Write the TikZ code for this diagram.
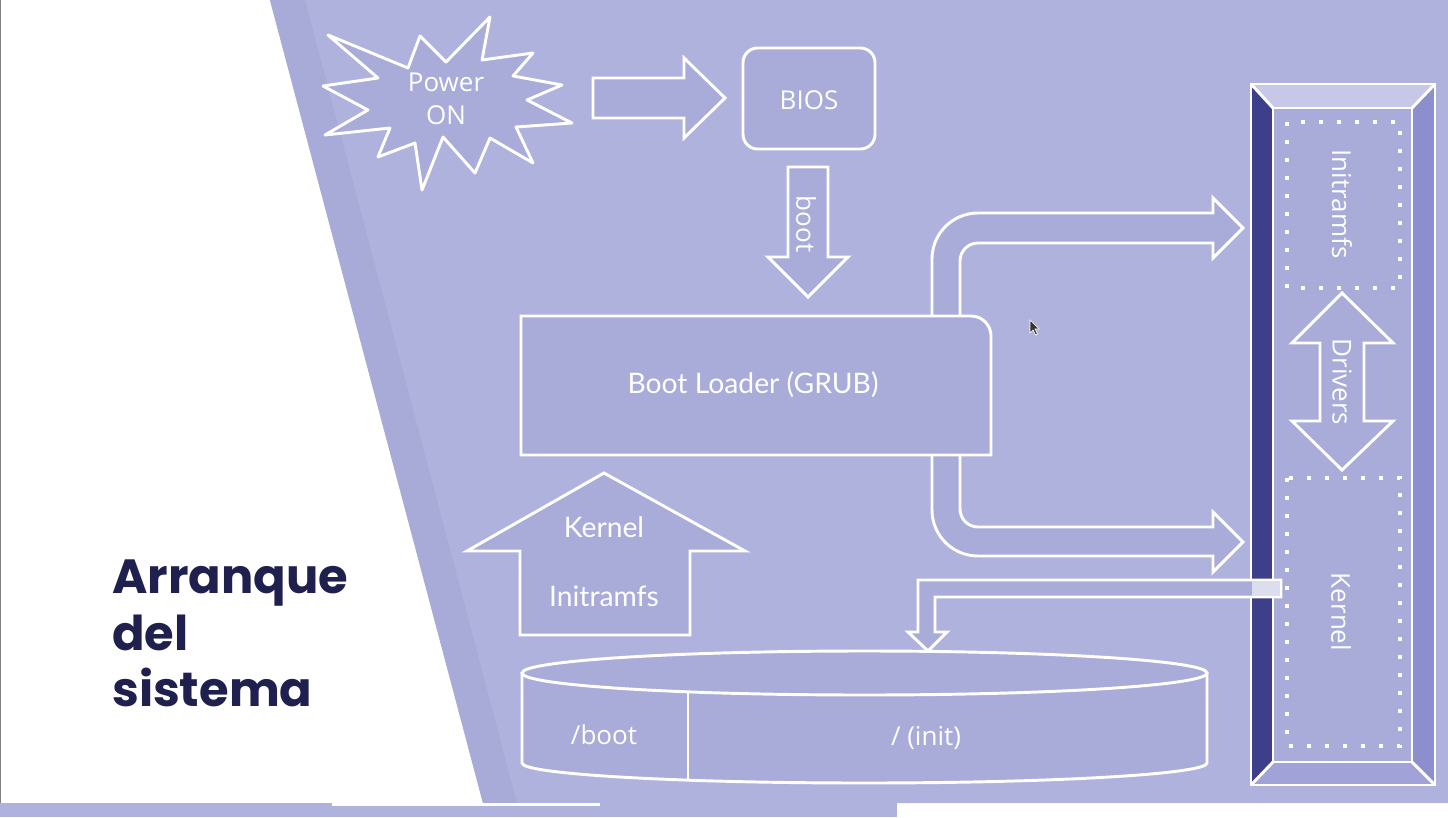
\documentclass[tikz,border=0pt]{standalone}
\usepackage{fontspec}
\setmainfont{Open Sans}
\newfontfamily\latofont{Lato}
\newfontfamily\titlefont{Poppins}
\usetikzlibrary{calc}

\definecolor{slidebg}{RGB}{176,178,222}
\definecolor{slideband}{RGB}{168,170,216}
\definecolor{boxfill}{RGB}{169,171,217}
\definecolor{titleblue}{RGB}{32,32,78}
\definecolor{bevtop}{RGB}{199,200,232}
\definecolor{bevleft}{RGB}{61,63,138}
\definecolor{bevright}{RGB}{140,142,205}
\definecolor{bevbottom}{RGB}{160,162,216}
\definecolor{lightfill}{RGB}{221,221,240}

\tikzset{
  wshape/.style={draw=white, line width=2.2pt, fill=boxfill, line join=miter},
  wline/.style={draw=white, line width=2.2pt},
  dotbox/.style={draw=white, line width=3pt, dash pattern=on 3pt off 10.5pt},
  seglabel/.style={text=white, inner sep=0pt, align=center, font=\fontsize{19.5}{25}\selectfont},
  latolabel/.style={text=white, inner sep=0pt, font=\latofont\fontsize{21.2}{25}\selectfont},
  titleline/.style={text=titleblue, inner sep=0pt, anchor=base west, font=\titlefont\bfseries\fontsize{36}{43}\selectfont},
}

\begin{document}
\begin{tikzpicture}[x=0.75pt,y=0.75pt,yscale=-1,xscale=1]
\useasboundingbox (0,0) rectangle (1448,817);

%Shape: Background
\fill [white] (0,0) rectangle (1448,817) ;
\fill [slidebg] (270,0) -- (1448,0) -- (1448,803) -- (483,803) -- cycle ;
\fill [slideband] (270,0) -- (305,0) -- (517,803) -- (483,803) -- cycle ;
\fill [slidebg] (0,803) rectangle (897,817) ;
\fill [white] (332,803) rectangle (600,806) ;
\draw [gray, line width=0.75pt] (0.5,0) -- (0.5,803) ;

%Shape: Bevel column
\fill [boxfill] (1273,108) rectangle (1412,762) ;
\fill [bevtop] (1251,84) -- (1435,84) -- (1412,108) -- (1273,108) -- cycle ;
\fill [bevleft] (1251,84) -- (1273,108) -- (1273,762) -- (1251,785) -- cycle ;
\fill [bevright] (1435,84) -- (1435,785) -- (1412,762) -- (1412,108) -- cycle ;
\fill [bevbottom] (1251,785) -- (1435,785) -- (1412,762) -- (1273,762) -- cycle ;
\draw [wline] (1251,84) rectangle (1435,785) ;
\draw [wline] (1273,108) rectangle (1412,762) ;
\draw [wline] (1251,84) -- (1273,108) (1435,84) -- (1412,108) (1251,785) -- (1273,762) (1435,785) -- (1412,762) ;

%Shape: Dotted boxes
\draw [dotbox] (1287,122) rectangle (1400,288) ;
\draw [dotbox] (1287,478) rectangle (1400,746) ;

%Shape: Drivers double arrow
\draw [wshape] (1342,293) -- (1393,343) -- (1364,343) -- (1364,421) -- (1393,421) -- (1342,470) -- (1292,421) -- (1320,421) -- (1320,343) -- (1292,343) -- cycle ;

%Shape: Star
\draw [wshape, line join=round] (328,35) -- (408,68) -- (420,36) -- (446,62) -- (490,17) -- (482,60) -- (533,53) -- (513,76) -- (562,85) -- (527,100) -- (572,123) -- (516,127) -- (533,163) -- (490,138) -- (475,173) -- (443,137) -- (422,190) -- (415,143) -- (378,157) -- (390,128) -- (325,135) -- (368,110) -- (323,86) -- (378,78) -- cycle ;

%Shape: Right arrow
\draw [wshape] (593,78) -- (684,78) -- (684,58) -- (725,98) -- (684,138) -- (684,118) -- (593,118) -- cycle ;

%Shape: BIOS
\draw [wshape, rounded corners=11pt] (743,48) rectangle (875,149) ;

%Shape: Down arrow
\draw [wshape] (788,167) -- (828,167) -- (828,257) -- (848,257) -- (808,297) -- (768,257) -- (788,257) -- cycle ;

%Shape: Bent arrow up
\draw [wshape] (932,316) -- (932,259) arc [start angle=180, end angle=270, radius=46] -- (1213,213) -- (1213,198) -- (1243,228) -- (1213,258) -- (1213,243) -- (978,243) arc [start angle=270, end angle=180, radius=18] -- (960,316) ;

%Shape: Bent arrow down
\draw [wshape] (932,455) -- (932,510) arc [start angle=180, end angle=90, radius=46] -- (1213,556) -- (1213,572) -- (1243,542) -- (1213,512) -- (1213,527) -- (978,527) arc [start angle=90, end angle=180, radius=18] -- (960,455) ;

%Shape: Boot loader
\draw [wshape] (521,316) -- (971,316) arc [start angle=270, end angle=360, radius=20] -- (991,455) -- (521,455) -- cycle ;

%Shape: Up arrow
\draw [wshape] (604,473) -- (745,551) -- (690,551) -- (690,635) -- (520,635) -- (520,551) -- (467,551) -- cycle ;

%Shape: L arrow to disk
\draw [wshape] (1281,580) -- (918,580) -- (918,632) -- (908,632) -- (928,651) -- (947,632) -- (935,632) -- (935,597) -- (1281,597) -- cycle ;
\draw [wline, fill=lightfill] (1252,580) -- (1281,580) -- (1281,597) -- (1252,597) ;

%Shape: Disk
\draw [wshape] (522,673) -- (522,763) arc [start angle=180, end angle=0, x radius=342.5, y radius=20] -- (1207,673) ;
\draw [wshape] (864.5,673) ellipse [x radius=342.5, y radius=22] ;
\draw [wline] (688,692) -- (688,780) ;

%Shape: Cursor
\draw [fill=black!80, draw=white, line width=0.5pt] (1030,320) -- (1030,333) -- (1033,330) -- (1035.5,335) -- (1037.5,334) -- (1035,329) -- (1039,329) -- cycle ;

% Text Node
\node [seglabel] (power) at (446,99) {Power\\ON};
% Text Node
\node [seglabel] (bios) at (809,100) {BIOS};
% Text Node
\node [seglabel, rotate=-90] (boot) at (806,224) {boot};
% Text Node
\node [latolabel] (grub) at (753,385) {Boot Loader (GRUB)};
% Text Node
\node [latolabel] (upkernel) at (604,527) {Kernel};
% Text Node
\node [latolabel] (upinitrd) at (604,596) {Initramfs};
% Text Node
\node [seglabel] (bootpart) at (604,735) {/boot};
% Text Node
\node [seglabel] (rootpart) at (926,738) {/ (init)};
% Text Node
\node [seglabel, rotate=-90] (initrd) at (1342,204) {Initramfs};
% Text Node
\node [seglabel, rotate=-90] (drivers) at (1342,382) {Drivers};
% Text Node
\node [seglabel, rotate=-90] (kernel) at (1341,612) {Kernel};
% Text Node
\node [titleline] (title1) at (112,593) {Arranque};
\node [titleline] (title2) at (112,650) {del};
\node [titleline] (title3) at (112,706) {sistema};

\end{tikzpicture}
\end{document}
